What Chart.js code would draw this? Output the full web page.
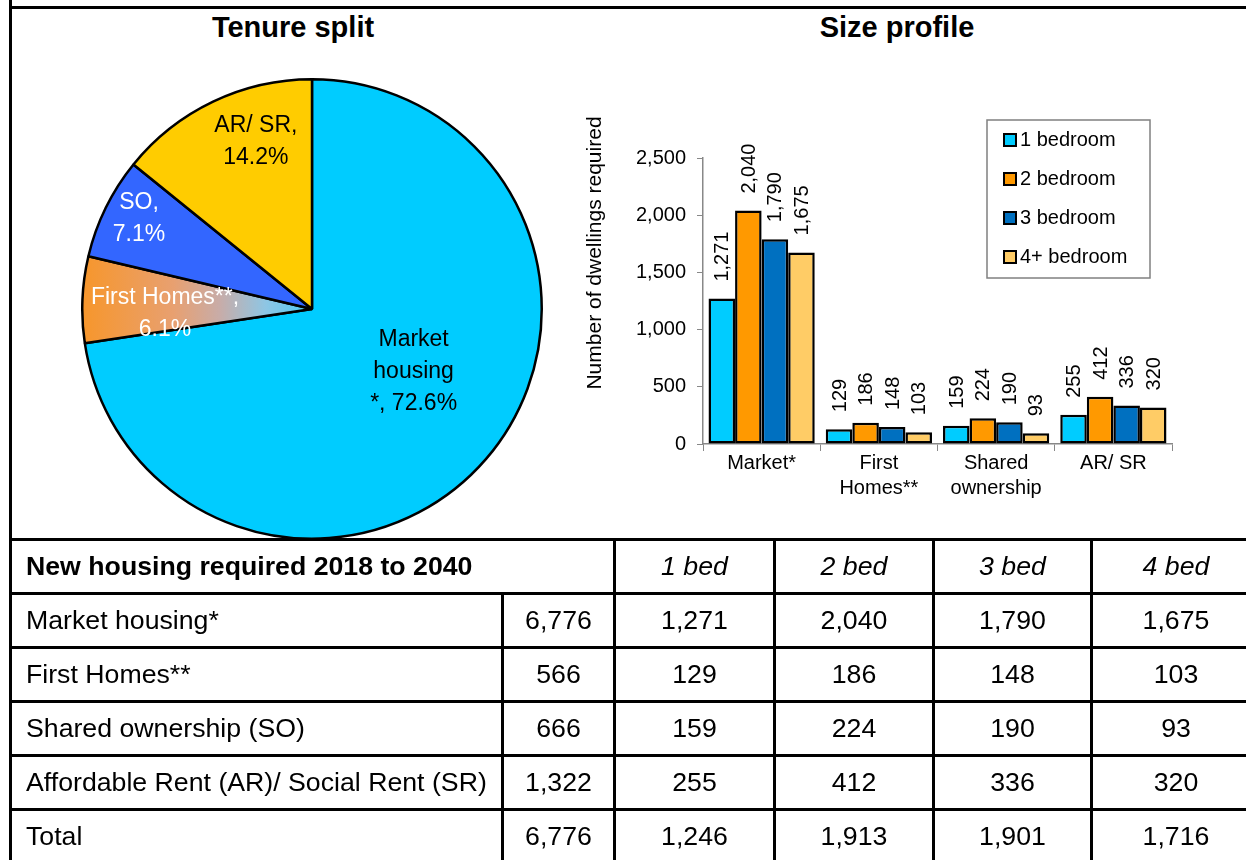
<!DOCTYPE html>
<html>
<head>
<meta charset="utf-8">
<script src="https://cdn.jsdelivr.net/npm/chart.js@4.4.1/dist/chart.umd.min.js"></script>
<style>
html, body { margin: 0; padding: 0; overflow: hidden; background: #fff; width: 1246px; height: 860px; font-family: "Liberation Sans", Arial, sans-serif; }
.frame-v { position: absolute; left: 9px; top: 0; width: 3px; height: 860px; background: #000; }
.frame-h { position: absolute; left: 9px; top: 6px; width: 1240px; height: 3px; background: #000; }
.title { position: absolute; top: 10px; width: 400px; font-weight: bold; font-size: 29px; line-height: 34px; text-align: center; }
#pieWrap { position: absolute; left: 81px; top: 78px; }
#barWrap { position: absolute; left: 560px; top: 90px; }
#tbl { position: absolute; left: 9px; top: 538px; width: 1250px; border-collapse: collapse; table-layout: fixed; font-size: 26.7px; }
#tbl td { border: 3px solid #000; padding: 0; text-align: center; white-space: nowrap; }
#tbl tr { height: 54px; }
#tbl td.lab { text-align: left; padding-left: 14px; }
#tbl td.head { font-weight: bold; }
#tbl td.bed { font-style: italic; }
</style>
</head>
<body>
<div class="frame-h"></div>
<div class="frame-v"></div>
<div class="title" style="left:93px">Tenure split</div>
<div class="title" style="left:697px">Size profile</div>
<div id="pieWrap"><canvas id="pie" width="462" height="462"></canvas></div>
<div id="barWrap"><canvas id="bars" width="640" height="420"></canvas></div>
<table id="tbl">
  <colgroup>
    <col style="width:492px"><col style="width:112px"><col style="width:160px">
    <col style="width:159px"><col style="width:158px"><col style="width:169px">
  </colgroup>
  <tbody id="tbody"></tbody>
</table>
<script>
// tenure split (pie)
const tenureLabels = ['Market housing*', 'First Homes**', 'SO', 'AR/ SR'];
const tenureValues = [6776, 566, 666, 1322];
const pieNames = [['Market', 'housing', '*,'], ['First Homes**,'], ['SO,'], ['AR/ SR,']];
const pctInline = [true, false, false, false];

// size profile (bars)
const sizeCategories = ['Market*', ['First', 'Homes**'], ['Shared', 'ownership'], 'AR/ SR'];
const bedroomLabels = ['1 bedroom', '2 bedroom', '3 bedroom', '4+ bedroom'];
const oneBed = [1271, 129, 159, 255];
const twoBed = [2040, 186, 224, 412];
const threeBed = [1790, 148, 190, 336];
const fourBed = [1675, 103, 93, 320];
const yTicks = [0, 500, 1000, 1500, 2000, 2500];

// table
const tableTitle = 'New housing required 2018 to 2040';
const bedHeaders = ['1 bed', '2 bed', '3 bed', '4 bed'];
const rowLabels = ['Market housing*', 'First Homes**', 'Shared ownership (SO)', 'Affordable Rent (AR)/ Social Rent (SR)', 'Total'];
const rowTotals = [6776, 566, 666, 1322, 6776];
const totalByBed = [1246, 1913, 1901, 1716];

const FONT = '"Liberation Sans", Arial, sans-serif';
const fmt = v => v.toLocaleString('en-US');

const pieColors = ['#00CCFF', '#F7962A', '#3366FF', '#FFCC00'];
const pieTextColor = ['#000', '#fff', '#fff', '#000'];
const labelRadius = [0.52, 0.64, 0.85, 0.77];
const labelShift = [-9, -4, 1.5, 7];

const pieLabels = {
    id: 'pieLabels',
    afterDatasetsDraw(chart) {
        const ctx = chart.ctx;
        const total = tenureValues.reduce((a, b) => a + b, 0);
        chart.getDatasetMeta(0).data.forEach((arc, i) => {
            const mid = (arc.startAngle + arc.endAngle) / 2 + labelShift[i] * Math.PI / 180;
            const r = arc.outerRadius * labelRadius[i];
            const x = arc.x + Math.cos(mid) * r;
            const y = arc.y + Math.sin(mid) * r;
            const pct = (tenureValues[i] / total * 100).toFixed(1) + '%';
            const lines = pieNames[i].slice();
            if (pctInline[i]) lines[lines.length - 1] += ' ' + pct; else lines.push(pct);
            ctx.save();
            ctx.font = '23px ' + FONT;
            ctx.fillStyle = pieTextColor[i];
            ctx.textAlign = 'center';
            ctx.textBaseline = 'middle';
            lines.forEach((l, k) => ctx.fillText(l, x, y + (k - (lines.length - 1) / 2) * 32));
            ctx.restore();
        });
    }
};

new Chart(document.getElementById('pie').getContext('2d'), {
    type: 'pie',
    data: {
        labels: tenureLabels,
        datasets: [{
            data: tenureValues,
            backgroundColor: function (c) {
                const area = c.chart.chartArea;
                if (c.dataIndex !== 1 || !area) return pieColors[c.dataIndex];
                // first homes slice is shaded orange -> blue
                const g = c.chart.ctx.createLinearGradient(area.left, 0, (area.left + area.right) / 2, 0);
                g.addColorStop(0, '#F7962A');
                g.addColorStop(0.4, '#E8A070');
                g.addColorStop(0.6, '#C8ACA8');
                g.addColorStop(0.8, '#8EC6E4');
                g.addColorStop(1, '#4CCBF5');
                return g;
            },
            borderColor: '#000',
            borderWidth: 2.5
        }]
    },
    options: {
        responsive: false,
        animation: false,
        layout: { padding: 0 },
        plugins: { legend: { display: false }, tooltip: { enabled: false } }
    },
    plugins: [pieLabels]
});

const barColors = ['#00CCFF', '#FF9900', '#0070C0', '#FFCC66'];

const barExtras = {
    id: 'barExtras',
    afterDatasetsDraw(chart) {
        const ctx = chart.ctx;
        ctx.save();
        ctx.font = '20px ' + FONT;
        ctx.fillStyle = '#000';
        ctx.textAlign = 'left';
        ctx.textBaseline = 'middle';
        chart.data.datasets.forEach((ds, i) => {
            chart.getDatasetMeta(i).data.forEach((bar, j) => {
                ctx.save();
                ctx.translate(bar.x + 1, bar.y - 17);
                ctx.rotate(-Math.PI / 2);
                ctx.fillText(fmt(ds.data[j]), 0, 0);
                ctx.restore();
            });
        });
        ctx.restore();
    },
    afterDraw(chart) {
        const ctx = chart.ctx;
        const a = chart.chartArea;
        // y axis title
        ctx.save();
        ctx.font = '21px ' + FONT;
        ctx.fillStyle = '#000';
        ctx.textAlign = 'center';
        ctx.textBaseline = 'middle';
        ctx.translate(a.left - 108, a.top + 95);
        ctx.rotate(-Math.PI / 2);
        ctx.fillText('Number of dwellings required', 0, 0);
        ctx.restore();
        // legend
        const lx = a.right - 185, ly = a.top - 38;
        ctx.save();
        ctx.strokeStyle = '#808080';
        ctx.lineWidth = 1.5;
        ctx.strokeRect(lx, ly, 163, 158);
        ctx.font = '20px ' + FONT;
        ctx.textBaseline = 'middle';
        chart.data.datasets.forEach((ds, k) => {
            const cy = ly + 20 + k * 39;
            ctx.fillStyle = ds.backgroundColor;
            ctx.fillRect(lx + 17, cy - 6, 12, 12);
            ctx.strokeStyle = '#000';
            ctx.lineWidth = 2;
            ctx.strokeRect(lx + 17, cy - 6, 12, 12);
            ctx.fillStyle = '#000';
            ctx.fillText(ds.label, lx + 33, cy);
        });
        ctx.restore();
    }
};

new Chart(document.getElementById('bars').getContext('2d'), {
    type: 'bar',
    data: {
        labels: sizeCategories,
        datasets: [oneBed, twoBed, threeBed, fourBed].map((d, i) => ({
            label: bedroomLabels[i],
            data: d,
            backgroundColor: barColors[i],
            borderColor: '#000',
            borderWidth: 2.5,
            borderSkipped: false,
            categoryPercentage: 0.906,
            barPercentage: 1
        }))
    },
    options: {
        responsive: false,
        animation: false,
        layout: { padding: { top: 68, right: 28, left: 0, bottom: 0 } },
        plugins: { legend: { display: false }, tooltip: { enabled: false } },
        scales: {
            x: {
                grid: { display: true, drawOnChartArea: false, drawTicks: true, tickLength: 7, color: '#888', offset: true },
                border: { color: '#888', width: 1.5 },
                ticks: { color: '#000', font: { family: FONT, size: 20, lineHeight: 1.25 }, padding: 0, maxRotation: 0, autoSkip: false },
                afterFit(s) { s.height = 66; }
            },
            y: {
                min: yTicks[0],
                max: yTicks[yTicks.length - 1],
                afterBuildTicks(s) { s.ticks = yTicks.map(v => ({ value: v })); },
                ticks: { color: '#000', font: { family: FONT, size: 20 }, padding: 11, callback: v => fmt(v) },
                grid: { drawOnChartArea: false, tickLength: 6, color: '#888' },
                border: { color: '#888', width: 1.5 },
                afterFit(s) { s.width = 143; }
            }
        }
    },
    plugins: [barExtras]
});

// table rows
const tbody = document.getElementById('tbody');
let html = '<tr><td class="lab head" colspan="2">' + tableTitle + '</td>' +
    bedHeaders.map(h => '<td class="bed">' + h + '</td>').join('') + '</tr>';
rowLabels.forEach((lab, i) => {
    const vals = i < 4 ? [oneBed[i], twoBed[i], threeBed[i], fourBed[i]] : totalByBed;
    html += '<tr><td class="lab">' + lab + '</td><td>' + fmt(rowTotals[i]) + '</td>' +
        vals.map(v => '<td>' + fmt(v) + '</td>').join('') + '</tr>';
});
tbody.innerHTML = html;
</script>
</body>
</html>
